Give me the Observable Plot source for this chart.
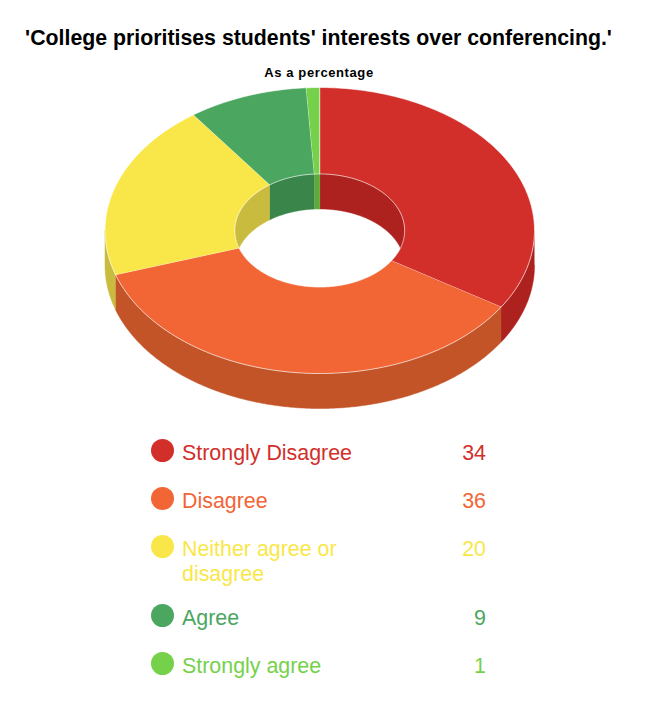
<!DOCTYPE html>
<html>
<head>
<meta charset="utf-8">
<script src="https://cdn.jsdelivr.net/npm/d3@7"></script>
<script src="https://cdn.jsdelivr.net/npm/@observablehq/plot@0.6"></script>
<style>
  html, body { margin: 0; background: #fff; }
  body { width: 662px; height: 725px; overflow: hidden; font-family: "Liberation Sans", Arial, sans-serif; }
  #title { position: absolute; left: 0; width: 637px; top: 26px; text-align: center; font-weight: bold; font-size: 21.3px; line-height: 24px; color: #000; white-space: nowrap; }
  #subtitle { position: absolute; left: 0; width: 638px; top: 65px; text-align: center; font-weight: bold; font-size: 13px; letter-spacing: 0.6px; line-height: 16px; color: #000; }
  #chart { position: absolute; left: 0; top: 80px; }
  #chart svg { display: block; }
  #legend { position: absolute; left: 151px; top: 438px; width: 335px; font-size: 21.4px; line-height: 25px; }
  .row { position: relative; height: 48px; }
  .row.two { height: 69px; }
  .swatch { position: absolute; left: 0; top: 1px; width: 23px; height: 23px; border-radius: 50%; }
  .name { position: absolute; left: 31px; top: 3px; width: 190px; }
  .value { position: absolute; right: 0; top: 3px; }
</style>
</head>
<body>
<div id="title"></div>
<div id="subtitle"></div>
<div id="chart"></div>
<div id="legend"></div>
<script>
const titleText = "'College prioritises students' interests over conferencing.'";
const subtitleText = "As a percentage";
const categories = ["Strongly Disagree", "Disagree", "Neither agree or disagree", "Agree", "Strongly agree"];
const values = [34, 36, 20, 9, 1];
const faceColors = ["#d22f2b", "#f26535", "#f9e749", "#4ba65f", "#76d14a"];
const sideColors = ["#ad211e", "#c25428", "#c9bb3d", "#3a8549", "#5dab3a"];

// Donut proportions, in units of the outer radius.
const holeRatio = 85 / 215;
const depth = 35 / 143;

const total = d3.sum(values);
let running = 0;
const slices = categories.map((name, i) => {
  const start = running / total * 360;
  running += values[i];
  return { name, i, start, end: running / total * 360 };
});

const arcPoints = (a0, a1) => {
  const n = Math.max(2, Math.ceil((a1 - a0) / 0.5) + 1);
  return d3.range(n).map(k => a0 + (a1 - a0) * k / (n - 1));
};
const rim = (r, a, drop = 0) => ({
  x: r * Math.sin(a * Math.PI / 180),
  y: r * Math.cos(a * Math.PI / 180) - drop
});
const ring = (id, fill, outer, inner) =>
  [...outer, ...inner].map(p => ({ ...p, id, fill }));

const faces = slices.flatMap(s => {
  const angles = arcPoints(s.start, s.end);
  return ring("face" + s.i, faceColors[s.i],
    angles.map(a => rim(1, a)),
    angles.slice().reverse().map(a => rim(holeRatio, a)));
});

const wall = (prefix, r, lo, hi) => slices.flatMap(s => {
  const a0 = Math.max(s.start, lo), a1 = Math.min(s.end, hi);
  if (a1 <= a0) return [];
  const angles = arcPoints(a0, a1);
  return ring(prefix + s.i + "-" + lo, sideColors[s.i],
    angles.map(a => rim(r, a)),
    angles.slice().reverse().map(a => rim(r, a, depth)));
});

const innerWalls = [...wall("in", holeRatio, 0, 90), ...wall("in", holeRatio, 270, 360)];
const outerWalls = wall("out", 1, 90, 270);

const plot = Plot.plot({
  width: 662,
  height: 340,
  margin: 0,
  x: { domain: [-1, 1], range: [104.5, 534], axis: null },
  y: { domain: [1, -1], range: [7, 293], axis: null },
  color: { type: "identity" },
  marks: [
    Plot.line(innerWalls, { x: "x", y: "y", z: "id", fill: "fill", stroke: "fill", strokeWidth: 0.5 }),
    Plot.line(outerWalls, { x: "x", y: "y", z: "id", fill: "fill", stroke: "fill", strokeWidth: 0.5 }),
    Plot.line(faces, { x: "x", y: "y", z: "id", fill: "fill", stroke: "#ffffff", strokeOpacity: 0.65, strokeWidth: 1, strokeLinejoin: "round" })
  ]
});
document.getElementById("chart").append(plot);

document.getElementById("title").textContent = titleText;
document.getElementById("subtitle").textContent = subtitleText;

const legend = d3.select("#legend");
categories.forEach((name, i) => {
  const row = legend.append("div").attr("class", name.length > 20 ? "row two" : "row").style("color", faceColors[i]);
  row.append("div").attr("class", "swatch").style("background", faceColors[i]);
  row.append("div").attr("class", "name").text(name);
  row.append("div").attr("class", "value").text(values[i]);
});
</script>
</body>
</html>
